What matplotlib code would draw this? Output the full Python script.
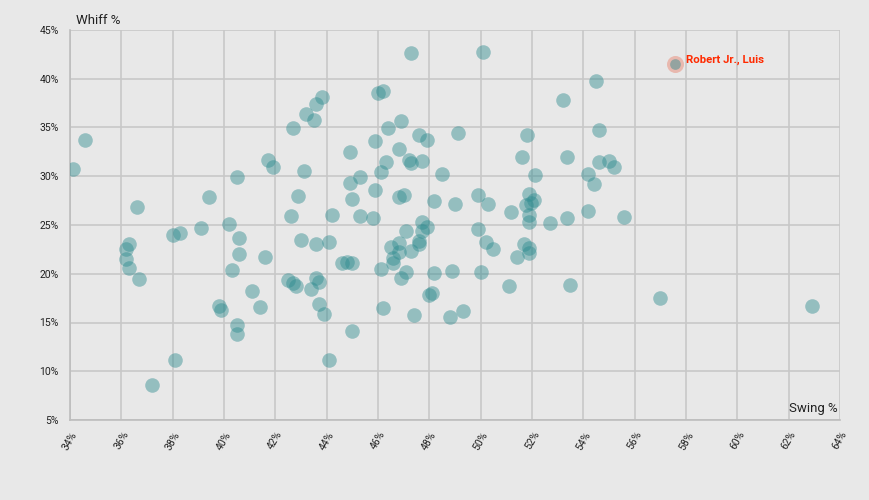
import numpy as np
from matplotlib import pyplot as plt

# swing % (x) and whiff % (y) per player
swing = [34.1, 34.6, 36.6, 36.3, 36.2, 36.2, 36.3, 36.7, 37.2,
         38.0, 38.3, 38.1, 39.1, 39.4, 39.8, 39.9,
         40.2, 40.3, 40.5, 40.6, 40.6, 40.5, 40.5, 41.1, 41.4, 41.6, 41.7, 41.9,
         42.6, 42.9, 43.0, 43.1, 42.7, 43.2, 43.5, 43.6, 43.8, 43.6,
         42.5, 42.7, 42.8, 43.4, 43.6, 43.7, 43.7, 43.9,
         44.1, 44.2, 44.1, 44.6, 44.8, 45.0, 44.9, 44.9, 45.3, 45.0, 45.3, 45.0,
         45.8, 45.9, 45.9,
         46.0, 46.2, 46.1, 46.3, 46.4, 46.1, 46.2, 46.8, 46.9, 46.8, 47.0,
         46.8, 46.5, 46.8, 46.6, 46.6, 46.9, 47.1, 47.1, 47.3,
         47.2, 47.3, 47.7, 47.3, 47.6, 47.9, 47.7, 47.9, 47.7, 47.6, 47.6, 47.4,
         48.0, 48.1, 48.2, 48.2, 48.5, 48.8, 48.9, 49.0, 49.1, 49.3, 49.9, 49.9, 50.0,
         50.1, 50.2, 50.3, 50.5, 51.1, 51.2, 51.4, 51.6, 51.7, 51.8, 51.9, 51.9, 51.9,
         51.75, 51.97, 52.07, 51.9, 51.9, 52.1,
         52.7, 53.2, 53.35, 53.35, 53.5, 54.2, 54.4, 54.2, 54.5, 54.6, 54.6, 55.0,
         55.2, 55.6, 57.0, 62.9]
whiff = [30.7, 33.7, 26.8, 23.0, 22.5, 21.5, 20.6, 19.5, 8.6,
         24.0, 24.2, 11.2, 24.7, 27.9, 16.7, 16.3,
         25.1, 20.4, 29.9, 23.7, 22.0, 14.7, 13.8, 18.2, 16.6, 21.7, 31.7, 30.9,
         25.9, 28.0, 23.5, 30.5, 34.9, 36.4, 35.8, 37.4, 38.1, 23.0,
         19.4, 19.1, 18.7, 18.4, 19.6, 19.2, 16.9, 15.9,
         23.3, 26.0, 11.2, 21.1, 21.2, 21.1, 32.5, 29.3, 29.9, 27.7, 25.9, 14.1,
         25.7, 28.6, 33.6,
         38.5, 38.7, 30.4, 31.5, 34.9, 20.5, 16.5, 32.8, 35.7, 27.9, 28.1,
         23.2, 22.7, 22.2, 21.6, 21.1, 19.6, 20.2, 24.4, 22.3,
         31.7, 31.4, 31.6, 42.6, 34.2, 33.7, 25.3, 24.8, 24.4, 23.4, 23.0, 15.8,
         17.8, 18.0, 27.5, 20.1, 30.2, 15.6, 20.3, 27.2, 34.4, 16.2, 28.1, 24.6, 20.2,
         42.7, 23.3, 27.2, 22.5, 18.7, 26.3, 21.7, 32.0, 23.1, 34.2, 28.2, 22.6, 22.1,
         27.1, 27.3, 27.6, 26.0, 25.3, 30.1,
         25.2, 37.8, 32.0, 25.7, 18.8, 30.2, 29.2, 26.4, 39.8, 34.7, 31.5, 31.6,
         30.9, 25.8, 17.5, 16.7]

highlight_name = 'Robert Jr., Luis'
highlight_x = 57.58
highlight_y = 41.5

x_ticks = list(range(34, 65, 2))
y_ticks = list(range(5, 46, 5))

plt.rcParams['font.family'] = ['Roboto', 'DejaVu Sans']

bg = '#e8e8e8'
fig = plt.figure(figsize=(8.7, 5.0), dpi=100, facecolor=bg)
ax = fig.add_axes([70 / 870, 80 / 500, 770 / 870, 390 / 500])
ax.set_facecolor(bg)

ax.scatter(swing, whiff, s=110, color='#2e8b8f', alpha=0.45, linewidths=0, zorder=3)
# highlighted player: red halo with a smaller teal dot
ax.scatter([highlight_x], [highlight_y], s=150, color='#e9b3a8', alpha=0.9,
           linewidths=0, zorder=2)
ax.scatter([highlight_x], [highlight_y], s=60, color='#2e8b8f', alpha=0.45,
           linewidths=0, zorder=3)
ax.annotate(highlight_name, (highlight_x, highlight_y), xytext=(7.5, 3),
            textcoords='offset points', ha='left', va='center',
            color='#ff2a00', fontsize=8.2, fontweight='bold', zorder=4)

ax.set_xlim(34, 64)
ax.set_ylim(5, 45)
ax.set_xticks(x_ticks)
ax.set_yticks(y_ticks)
ax.set_xticklabels(['%d%%' % t for t in x_ticks], rotation=60, ha='center', va='top')
ax.set_yticklabels(['%d%%' % t for t in y_ticks])
ax.tick_params(axis='both', length=0, labelsize=7.5, colors='#222222')
ax.tick_params(axis='x', pad=7)
ax.tick_params(axis='y', pad=8)
ax.grid(True, color='#c8c8c8', linewidth=1.2, zorder=0)
ax.set_axisbelow(True)
for side in ['top', 'right']:
    ax.spines[side].set_visible(False)
for side in ['left', 'bottom']:
    ax.spines[side].set_color('#bdbdbd')
    ax.spines[side].set_linewidth(1.2)

ax.text(0.008, 1.008, 'Whiff %', transform=ax.transAxes, ha='left', va='bottom',
        fontsize=9.5, color='#222222')
ax.text(0.997, 0.012, 'Swing %', transform=ax.transAxes, ha='right', va='bottom',
        fontsize=9.5, color='#222222')

plt.savefig('out.png', dpi=100, facecolor=bg)
